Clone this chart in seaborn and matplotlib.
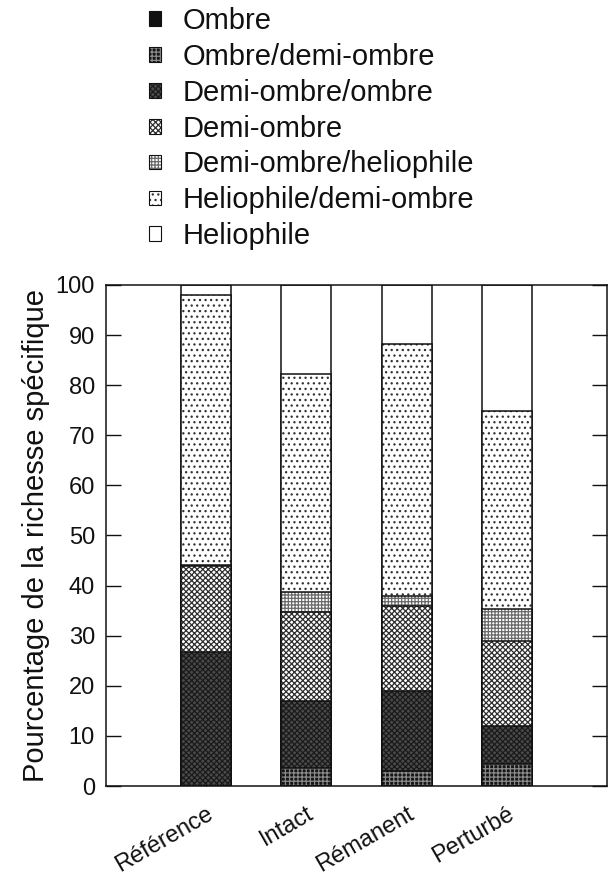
import matplotlib
matplotlib.use("Agg")
import matplotlib.pyplot as plt
from matplotlib.patches import Patch
import matplotlib.transforms as mtransforms
import seaborn as sns
import pandas as pd
import numpy as np

categories = ['Référence', 'Intact', 'Rémanent', 'Perturbé']
series_names = ['Ombre', 'Ombre/demi-ombre', 'Demi-ombre/ombre', 'Demi-ombre',
                'Demi-ombre/heliophile', 'Heliophile/demi-ombre', 'Heliophile']
ombre = [0.0, 0.0, 0.0, 0.0]
ombre_demi = [0.0, 3.6, 3.0, 4.3]
demi_ombre_ombre = [26.7, 13.4, 16.0, 7.7]
demi_ombre = [17.2, 17.7, 16.9, 16.9]
demi_helio = [0.2, 4.0, 2.0, 6.4]
helio_demi = [53.9, 43.5, 50.4, 39.6]
helio = [2.0, 17.8, 11.7, 25.1]
yticks = [0, 10, 20, 30, 40, 50, 60, 70, 80, 90, 100]

values = [ombre, ombre_demi, demi_ombre_ombre, demi_ombre, demi_helio, helio_demi, helio]
# (face color, hatch, hatch color)
styles = [
    ('#111111', '', '#111111'),
    ('#151515', '++++', '#8a8a8a'),
    ('#4a4a4a', 'xxxxxx', '#1a1a1a'),
    ('#ffffff', 'xxxxxx', '#2e2e2e'),
    ('#ffffff', '+++++', '#6a6a6a'),
    ('#ffffff', '...', '#333333'),
    ('#ffffff', '', '#ffffff'),
]

plt.rcParams['hatch.linewidth'] = 0.9
sns.set_style('ticks')
plt.rcParams['font.family'] = ['Liberation Sans', 'DejaVu Sans']
plt.rcParams['text.color'] = '#111111'
plt.rcParams['axes.labelcolor'] = '#111111'
plt.rcParams['xtick.color'] = '#111111'
plt.rcParams['ytick.color'] = '#111111'

fig = plt.figure(figsize=(6.09, 8.8), dpi=100)
ax = fig.add_axes([106 / 609, 94 / 880, 501 / 609, 501 / 880])

cum = np.cumsum(np.array(values), axis=0)
df = pd.DataFrame({'cat': categories})
for i in range(len(values) - 1, -1, -1):
    df['y'] = cum[i]
    face, hatch, hcol = styles[i]
    n0 = len(ax.patches)
    sns.barplot(data=df, x='cat', y='y', color=face, saturation=1, width=0.5,
                ax=ax, linewidth=0, order=categories)
    for p in ax.patches[n0:]:
        p.set_facecolor(face)
        p.set_hatch(hatch)
        p.set_edgecolor(hcol)
        p.set_linewidth(0)
    sns.barplot(data=df, x='cat', y='y', color='#111111', fill=False, width=0.5,
                ax=ax, linewidth=1.1, order=categories)

ax.set_xlim(-1, 4)
ax.set_ylim(0, 100)
ax.set_yticks(yticks)
ax.set_yticklabels([str(t) for t in yticks], fontsize=17)
ax.set_xticks(range(len(categories)))
ax.set_xticklabels(categories, fontsize=17, rotation=30, ha='right', va='top',
                   rotation_mode='anchor')
offset = mtransforms.ScaledTranslation(12 / 100, 0, fig.dpi_scale_trans)
for lab in ax.get_xticklabels():
    lab.set_transform(lab.get_transform() + offset)
ax.tick_params(axis='both', direction='in', top=True, right=True, length=11,
               width=1, color='#111111', labelcolor='#111111')
ax.tick_params(axis='y', pad=8)
ax.tick_params(axis='x', pad=12)
ax.set_xlabel('')
ax.set_ylabel('Pourcentage de la richesse spécifique', fontsize=21, labelpad=4,
              color='#111111')
for s in ax.spines.values():
    s.set_visible(True)
    s.set_linewidth(1.1)
    s.set_color('#111111')

handles = []
for i, name in enumerate(series_names):
    face, hatch, hcol = styles[i]
    h1 = Patch(facecolor=face, hatch=hatch, edgecolor=hcol, linewidth=0)
    h2 = Patch(facecolor='none', edgecolor='#111111', linewidth=0.8)
    handles.append((h1, h2))

leg = fig.legend(handles, series_names, loc='upper left',
                 bbox_to_anchor=(149 / 609, 1 - 7 / 880), frameon=False,
                 fontsize=21, handlelength=0.4, handleheight=0.4,
                 handletextpad=0.75, labelspacing=0.27, borderpad=0,
                 borderaxespad=0, labelcolor='#111111')

fig.savefig('out.png', dpi=100)
